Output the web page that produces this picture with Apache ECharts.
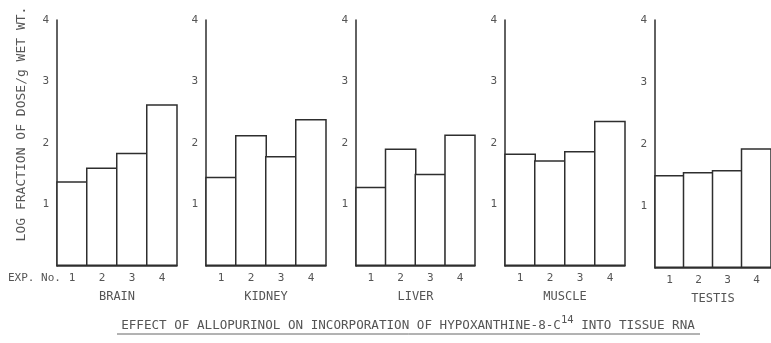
<!DOCTYPE html>
<html>
<head>
<meta charset="utf-8">
<script src="https://cdn.jsdelivr.net/npm/echarts@6/dist/echarts.min.js"></script>
<style>
  html, body { margin: 0; padding: 0; background: #fff; }
  #chart { width: 771px; height: 343px; }
</style>
</head>
<body>
<div id="chart"></div>
<script>
// data
const panels = ['BRAIN', 'KIDNEY', 'LIVER', 'MUSCLE', 'TESTIS'];
const expNo = ['1', '2', '3', '4'];
const brain = [1.38, 1.60, 1.84, 2.63];
const kidney = [1.45, 2.13, 1.79, 2.39];
const liver = [1.29, 1.91, 1.50, 2.14];
const muscle = [1.83, 1.72, 1.87, 2.36];
const testis = [1.50, 1.55, 1.58, 1.93];
const yMin = 0;
const yMax = 4;
const yStep = 1;

const values = [brain, kidney, liver, muscle, testis];
const lefts = [57, 206, 356, 505, 655];
const widths = [120, 120, 119, 120, 118];
const font = '"DejaVu Sans Mono", monospace';
const ink = '#2e2e2e';
const textInk = '#555';

const grid = [], xAxis = [], yAxis = [], series = [];
panels.forEach((name, i) => {
  grid.push({ left: lefts[i], width: widths[i], top: 20, height: i === 4 ? 248 : 246 });
  xAxis.push({
    type: 'category', gridIndex: i, data: expNo,
    name: name, nameLocation: 'middle', nameGap: 25,
    nameTextStyle: { fontFamily: font, fontSize: 12, color: textInk },
    axisLine: { lineStyle: { color: ink, width: 1.5 } },
    axisTick: { show: false },
    axisLabel: { fontFamily: font, fontSize: 11, color: textInk, margin: 7 }
  });
  yAxis.push({
    type: 'value', gridIndex: i, min: yMin, max: yMax, interval: yStep,
    splitLine: { show: false },
    axisLine: { show: true, lineStyle: { color: ink, width: 1.5 } },
    axisTick: { show: false },
    axisLabel: {
      fontFamily: font, fontSize: 11, color: textInk, margin: 8,
      formatter: v => (v === 0 ? '' : String(v))
    }
  });
  // bars touch each other like the hand-drawn histogram
  series.push({
    type: 'bar', xAxisIndex: i, yAxisIndex: i, data: values[i],
    barWidth: widths[i] / 4 + 2, silent: true,
    itemStyle: { color: '#fff', borderColor: ink, borderWidth: 1.5 }
  });
});

const chart = echarts.init(document.getElementById('chart'));
chart.setOption({
  backgroundColor: '#fff',
  animation: false,
  grid, xAxis, yAxis, series,
  graphic: [
    {
      type: 'text', x: 22, y: 124, rotation: Math.PI / 2,
      style: {
        text: 'LOG FRACTION OF DOSE/g WET WT.', fontFamily: font, fontSize: 13,
        fill: textInk, align: 'center', verticalAlign: 'middle'
      }
    },
    {
      type: 'text', x: 8, y: 278,
      style: {
        text: 'EXP. No.', fontFamily: font, fontSize: 11,
        fill: textInk, align: 'left', verticalAlign: 'middle'
      }
    },
    {
      type: 'text', x: 408, y: 332,
      style: {
        text: '{a|EFFECT OF ALLOPURINOL ON INCORPORATION OF HYPOXANTHINE-8-C}{s|14}{a| INTO TISSUE RNA}',
        align: 'center', verticalAlign: 'bottom',
        rich: {
          a: { fontFamily: font, fontSize: 12.6, fill: textInk, color: textInk, verticalAlign: 'bottom' },
          s: { fontFamily: font, fontSize: 10.5, fill: textInk, color: textInk, verticalAlign: 'top', padding: [0, 0, 6, 0] }
        }
      }
    },
    {
      type: 'line', shape: { x1: 117, y1: 334, x2: 700, y2: 334 },
      style: { stroke: '#666', lineWidth: 1 }
    }
  ]
});
</script>
</body>
</html>
